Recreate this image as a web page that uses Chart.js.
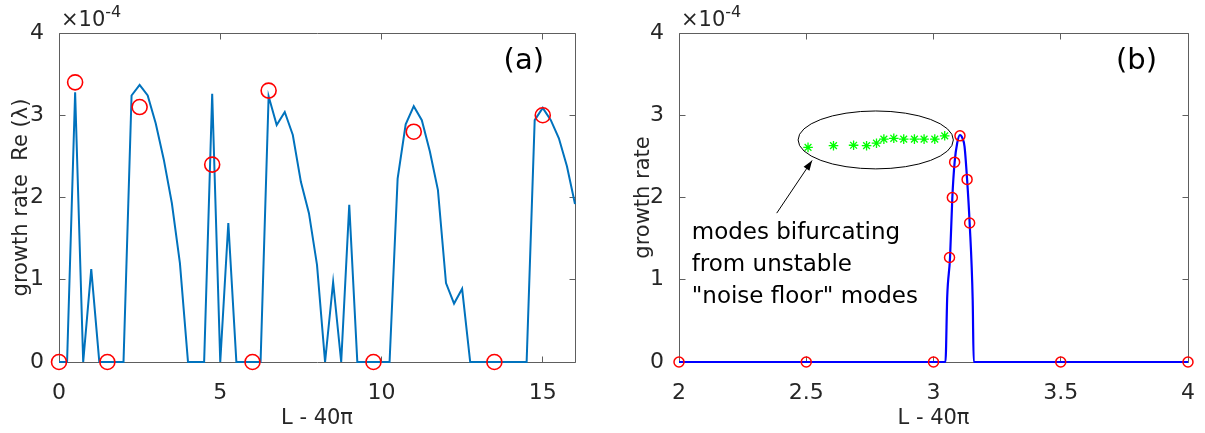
<!DOCTYPE html>
<html>
<head>
<meta charset="utf-8">
<script src="https://cdn.jsdelivr.net/npm/chart.js@4.4.0/dist/chart.umd.min.js"></script>
<style>
  body { margin: 0; background: #fff; }
  #wrap { position: relative; width: 1205px; height: 433px; }
  canvas { position: absolute; top: 0; }
</style>
</head>
<body>
<div id="wrap">
  <canvas id="chartA" width="600" height="433" style="left:0"></canvas>
  <canvas id="chartB" width="605" height="433" style="left:600px"></canvas>
</div>
<script>
// growth rates are in units of 1e-4 (see the x10^-4 label)

// panel (a)
const lengthA = [0, 0.25, 0.5, 0.75, 1, 1.25, 1.5, 1.75, 2, 2.25, 2.5, 2.75, 3, 3.25, 3.5, 3.75,
  4, 4.25, 4.5, 4.75, 5, 5.25, 5.5, 5.75, 6, 6.25, 6.5, 6.75, 7, 7.25, 7.5, 7.75,
  8, 8.25, 8.5, 8.75, 9, 9.25, 9.5, 9.75, 10, 10.25, 10.5, 10.75, 11, 11.25, 11.5, 11.75,
  12, 12.25, 12.5, 12.75, 13, 13.25, 13.5, 13.75, 14, 14.25, 14.5, 14.75, 15, 15.25, 15.5, 15.75, 16];
const growthA = [0, 0, 3.28, 0, 1.13, 0, 0, 0, 0, 3.24, 3.37, 3.24, 2.90, 2.46, 1.93, 1.2,
  0, 0, 0, 3.26, 0, 1.69, 0, 0, 0, 0, 3.23, 2.88, 3.04, 2.76, 2.19, 1.81,
  1.18, 0, 0.97, 0, 1.91, 0, 0, 0, 0, 0, 2.23, 2.89, 3.11, 2.94, 2.56, 2.09,
  0.96, 0.71, 0.89, 0, 0, 0, 0, 0, 0, 0, 0, 2.94, 3.09, 2.94, 2.72, 2.38, 1.92];
const markLengthA = [0, 0.5, 1.5, 2.5, 4.75, 6, 6.5, 9.75, 11, 13.5, 15];
const markGrowthA = [0, 3.40, 0, 3.10, 2.40, 0, 3.30, 0, 2.80, 0, 3.00];
const xTicksA = [0, 5, 10, 15];
const xTickLabelsA = ['0', '5', '10', '15'];

// panel (b)
const lengthB = [2, 3.047, 3.054, 3.065, 3.074, 3.083, 3.093, 3.104, 3.114, 3.122, 3.132, 3.142, 3.154, 3.158, 4];
const growthB = [0, 0, 0.8, 1.27, 2.0, 2.43, 2.66, 2.76, 2.72, 2.62, 2.22, 1.69, 0.75, 0, 0];
const markLengthB = [2, 2.5, 3, 3.5, 4, 3.063, 3.074, 3.083, 3.104, 3.132, 3.142];
const markGrowthB = [0, 0, 0, 0, 0, 1.27, 2.0, 2.43, 2.75, 2.22, 1.69];
const bifLength = [2.507, 2.607, 2.686, 2.737, 2.776, 2.805, 2.844, 2.883, 2.925, 2.963, 3.005, 3.044];
const bifGrowth = [2.61, 2.63, 2.635, 2.63, 2.66, 2.71, 2.72, 2.71, 2.71, 2.71, 2.71, 2.75];
const xTicksB = [2, 2.5, 3, 3.5, 4];
const xTickLabelsB = ['2', '2.5', '3', '3.5', '4'];
const noteLines = ['modes bifurcating', 'from unstable', '"noise floor" modes'];

const yTicks = [0, 1, 2, 3, 4];
const yTickLabels = ['0', '1', '2', '3', '4'];

const FONT = '"DejaVu Sans", sans-serif';
const textColor = '#262626';
const axisColor = '#5e5e5e';
Chart.defaults.font.family = FONT;

const pts = (xs, ys) => xs.map((v, i) => ({ x: v, y: ys[i] }));

// box round the axes, inward ticks, exponent label and panel tag
const framePlugin = {
  id: 'frame',
  beforeDatasetsDraw(chart, args, o) {
    const { ctx, chartArea: a, scales } = chart;
    const l = Math.floor(a.left) + 0.5, r = Math.floor(a.right) + 0.5;
    const t = Math.floor(a.top) + 0.5, b = Math.floor(a.bottom) + 0.5;
    ctx.save();
    ctx.strokeStyle = axisColor;
    ctx.lineWidth = 1;
    ctx.beginPath();
    ctx.rect(l, t, r - l, b - t);
    o.xTicks.forEach(v => {
      const px = Math.floor(scales.x.getPixelForValue(v)) + 0.5;
      ctx.moveTo(px, b); ctx.lineTo(px, b - 6);
      ctx.moveTo(px, t); ctx.lineTo(px, t + 6);
    });
    yTicks.forEach(v => {
      const py = Math.floor(scales.y.getPixelForValue(v)) + 0.5;
      ctx.moveTo(l, py); ctx.lineTo(l + 6, py);
      ctx.moveTo(r, py); ctx.lineTo(r - 6, py);
    });
    ctx.stroke();
    ctx.restore();
  },
  afterDraw(chart, args, o) {
    const { ctx, chartArea: a } = chart;
    ctx.save();
    ctx.fillStyle = textColor;
    ctx.textBaseline = 'alphabetic';
    ctx.textAlign = 'left';
    ctx.font = '21px ' + FONT;
    ctx.fillText('\u00d710', a.left + 2, 26);
    const w = ctx.measureText('\u00d710').width;
    ctx.font = '16px ' + FONT;
    ctx.fillText('-4', a.left + 2 + w, 17);
    ctx.fillStyle = '#000';
    ctx.font = '29px ' + FONT;
    ctx.textAlign = 'right';
    ctx.fillText(o.tag, a.right - 31, 69);
    ctx.restore();
  }
};

// ellipse, arrow and note in panel (b), placed in data units
const note = { cx: 2.773, cy: 2.70, rx: 0.305, ry: 0.352, fromX: 2.384, fromY: 1.81, toX: 2.523, toY: 2.45, textX: 2.05, textY: [1.495, 1.106, 0.717] };
const notePlugin = {
  id: 'note',
  afterDatasetsDraw(chart) {
    const { ctx, scales: { x, y } } = chart;
    ctx.save();
    ctx.strokeStyle = '#000';
    ctx.fillStyle = '#000';
    ctx.lineWidth = 1;
    const cx = x.getPixelForValue(note.cx), cy = y.getPixelForValue(note.cy);
    const rx = x.getPixelForValue(note.cx + note.rx) - cx;
    const ry = cy - y.getPixelForValue(note.cy + note.ry);
    ctx.beginPath();
    ctx.ellipse(cx, cy, rx, ry, 0, 0, Math.PI * 2);
    ctx.stroke();
    const x0 = x.getPixelForValue(note.fromX), y0 = y.getPixelForValue(note.fromY);
    const x1 = x.getPixelForValue(note.toX), y1 = y.getPixelForValue(note.toY);
    const ang = Math.atan2(y1 - y0, x1 - x0);
    ctx.beginPath();
    ctx.moveTo(x0, y0); ctx.lineTo(x1, y1);
    ctx.stroke();
    ctx.beginPath();
    ctx.moveTo(x1, y1);
    ctx.lineTo(x1 - 10 * Math.cos(ang) + 3.5 * Math.sin(ang), y1 - 10 * Math.sin(ang) - 3.5 * Math.cos(ang));
    ctx.lineTo(x1 - 10 * Math.cos(ang) - 3.5 * Math.sin(ang), y1 - 10 * Math.sin(ang) + 3.5 * Math.cos(ang));
    ctx.closePath();
    ctx.fill();
    ctx.font = '23px ' + FONT;
    ctx.textAlign = 'left';
    ctx.textBaseline = 'alphabetic';
    noteLines.forEach((s, i) => ctx.fillText(s, x.getPixelForValue(note.textX), y.getPixelForValue(note.textY[i])));
    ctx.restore();
  }
};

function makeOptions(p) {
  return {
    responsive: false,
    animation: false,
    devicePixelRatio: 1,
    layout: { padding: { top: 33, right: p.padRight, bottom: 0, left: 0 } },
    plugins: {
      legend: { display: false },
      tooltip: { enabled: false },
      frame: { xTicks: p.xTicks, tag: p.tag }
    },
    scales: {
      x: {
        type: 'linear', min: p.xMin, max: p.xMax,
        afterBuildTicks: s => { s.ticks = p.xTicks.map(v => ({ value: v })); },
        afterFit: s => { s.height = 71; },
        grid: { display: false },
        border: { display: false },
        ticks: {
          color: textColor, font: { size: 22 }, padding: 10, maxRotation: 0, autoSkip: false,
          callback: (v, i) => p.xTickLabels[i]
        },
        title: { display: true, text: 'L - 40\u03c0', color: textColor, font: { size: 21 }, padding: { top: 0, bottom: 2 } }
      },
      y: {
        type: 'linear', min: 0, max: 4,
        afterBuildTicks: s => { s.ticks = yTicks.map(v => ({ value: v })); },
        afterFit: s => { s.width = p.yWidth; },
        grid: { display: false },
        border: { display: false },
        ticks: {
          color: textColor, font: { size: 22 }, padding: 7,
          callback: (v, i) => yTickLabels[i]
        },
        title: { display: true, text: p.yTitle, color: textColor, font: { size: 21 }, padding: { top: p.yTitlePad, bottom: 0 } }
      }
    }
  };
}

new Chart(document.getElementById('chartA'), {
  type: 'line',
  data: {
    datasets: [
      {
        data: pts(markLengthA, markGrowthA), showLine: false, order: 0, clip: false,
        pointStyle: 'circle', pointRadius: 7.5, pointBorderWidth: 1.6,
        pointBorderColor: '#ff0000', pointBackgroundColor: 'rgba(0,0,0,0)'
      },
      {
        data: pts(lengthA, growthA), order: 1, clip: false, borderColor: '#0072bd', borderWidth: 2,
        pointRadius: 0, tension: 0
      }
    ]
  },
  options: makeOptions({ xMin: 0, xMax: 16, xTicks: xTicksA, xTickLabels: xTickLabelsA, padRight: 25, yWidth: 59, yTitle: 'growth rate  Re (\u03bb)', yTitlePad: 9, tag: '(a)' }),
  plugins: [framePlugin]
});

new Chart(document.getElementById('chartB'), {
  type: 'line',
  data: {
    datasets: [
      {
        data: pts(markLengthB, markGrowthB), showLine: false, order: 0, clip: false,
        pointStyle: 'circle', pointRadius: 5, pointBorderWidth: 1.5,
        pointBorderColor: '#ff0000', pointBackgroundColor: 'rgba(0,0,0,0)'
      },
      {
        data: pts(bifLength, bifGrowth), showLine: false, order: 1,
        pointStyle: 'star', pointRadius: 4.8, pointBorderWidth: 1.3,
        pointBorderColor: '#00ff00', pointBackgroundColor: '#00ff00'
      },
      {
        data: pts(lengthB, growthB), order: 2, clip: false, borderColor: '#0000ff', borderWidth: 2.2,
        pointRadius: 0, cubicInterpolationMode: 'monotone'
      }
    ]
  },
  options: makeOptions({ xMin: 2, xMax: 4, xTicks: xTicksB, xTickLabels: xTickLabelsB, padRight: 12, yWidth: 79, yTitle: 'growth rate', yTitlePad: 31, tag: '(b)' }),
  plugins: [framePlugin, notePlugin]
});
</script>
</body>
</html>
